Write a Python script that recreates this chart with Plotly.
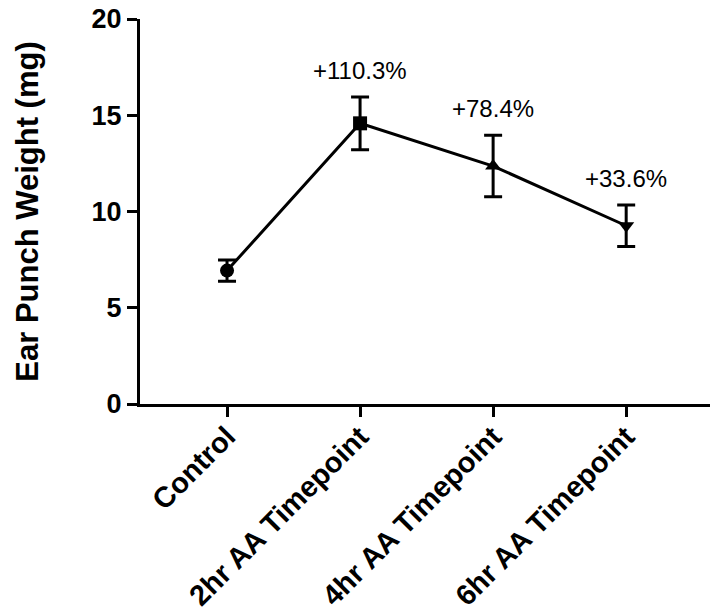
import plotly.graph_objects as go

# Ear punch weight by group (mean ± SEM)
groups = ["Control", "2hr AA Timepoint", "4hr AA Timepoint", "6hr AA Timepoint"]
weight_mg = [6.93, 14.58, 12.36, 9.26]
sem_mg = [0.55, 1.37, 1.60, 1.08]
pct_change = ["", "+110.3%", "+78.4%", "+33.6%"]
symbols = ["circle", "square", "triangle-up", "triangle-down"]
y_ticks = [0, 5, 10, 15, 20]

FONT = "Liberation Sans, Arial, Helvetica, sans-serif"

fig = go.Figure()
fig.add_trace(go.Scatter(
    x=list(range(len(groups))),
    y=weight_mg,
    mode="lines+markers",
    line=dict(color="black", width=3),
    marker=dict(symbol=symbols, size=14, color="black"),
    error_y=dict(type="data", array=sem_mg, visible=True,
                 color="black", thickness=3, width=9),
    showlegend=False,
))

for i, label in enumerate(pct_change):
    if not label:
        continue
    fig.add_annotation(
        x=i, y=weight_mg[i] + sem_mg[i], text=label,
        showarrow=False, yanchor="bottom", yshift=11,
        font=dict(family=FONT, size=24, color="black"),
    )

fig.update_layout(
    width=710, height=614,
    margin=dict(l=140, r=0, t=19, b=210),
    plot_bgcolor="white", paper_bgcolor="white",
    font=dict(family=FONT, color="black"),
    xaxis=dict(
        range=[-0.654, 3.63],
        tickmode="array", tickvals=list(range(len(groups))), ticktext=groups,
        tickangle=-45,
        tickfont=dict(family=FONT, size=29, weight="bold", color="black"),
        ticklabelstandoff=-9,
        showline=True, linecolor="black", linewidth=3,
        ticks="outside", ticklen=10, tickwidth=3, tickcolor="black",
        showgrid=False, zeroline=False,
    ),
    yaxis=dict(
        range=[0, 20],
        tickmode="array", tickvals=y_ticks,
        tickfont=dict(family=FONT, size=27, weight="bold", color="black"),
        showline=True, linecolor="black", linewidth=3,
        ticks="outside", ticklen=10, tickwidth=3, tickcolor="black",
        showgrid=False, zeroline=False,
        title=dict(text="Ear Punch Weight (mg)", standoff=44,
                   font=dict(family=FONT, size=31, weight="bold", color="black")),
    ),
)

fig.write_html("out.html")
